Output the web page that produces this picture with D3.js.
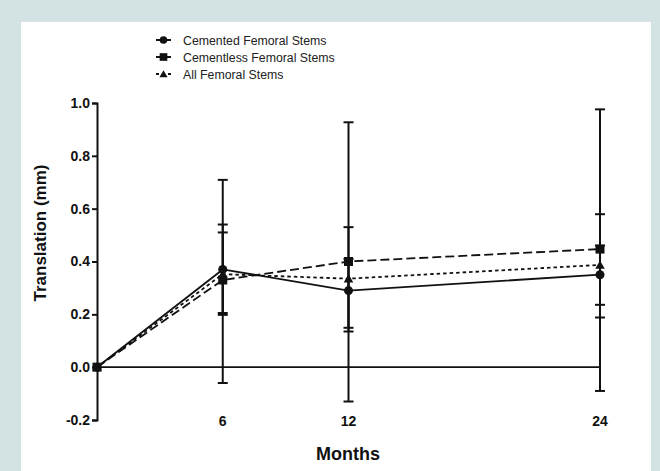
<!DOCTYPE html>
<html><head><meta charset="utf-8">
<script src="https://cdn.jsdelivr.net/npm/d3@7"></script>
<style>
html,body{margin:0;padding:0;background:#d3e3e3;}
svg{display:block;}
</style></head>
<body>
<svg id="chart" width="660" height="471"></svg>
<script>
const months = [0, 6, 12, 24];
const xTickLabels = [6, 12, 24];
const yTicks = [-0.2, 0.0, 0.2, 0.4, 0.6, 0.8, 1.0];
const seriesNames = ["Cemented Femoral Stems", "Cementless Femoral Stems", "All Femoral Stems"];
const cementedMean = [0, 0.37, 0.29, 0.35];
const cementedHigh = [0, 0.54, 0.41, 0.46];
const cementedLow  = [0, 0.205, 0.135, 0.236];
const cementlessMean = [0, 0.33, 0.40, 0.447];
const cementlessHigh = [0, 0.709, 0.927, 0.976];
const cementlessLow  = [0, -0.06, -0.13, -0.09];
const allMean = [0, 0.352, 0.335, 0.387];
const allHigh = [0, 0.51, 0.53, 0.579];
const allLow  = [0, 0.198, 0.149, 0.188];

const svg = d3.select("#chart");
svg.append("rect").attr("x",21).attr("y",22).attr("width",630).attr("height",449).attr("fill","#ffffff");

const x = d3.scaleLinear().domain([0,24]).range([97,600]);
const y = d3.scaleLinear().domain([-0.2,1.0]).range([420,103]);
const ink = "#111";
const font = "Liberation Sans, Arial, sans-serif";

const series = [
  {name: seriesNames[0], mean: cementedMean, hi: cementedHigh, lo: cementedLow, dash: null, marker: "circle"},
  {name: seriesNames[1], mean: cementlessMean, hi: cementlessHigh, lo: cementlessLow, dash: "9,4", marker: "square"},
  {name: seriesNames[2], mean: allMean, hi: allHigh, lo: allLow, dash: "3.5,3", marker: "triangle"}
];

// zero line
svg.append("line").attr("x1",x(0)).attr("x2",x(24)).attr("y1",y(0)).attr("y2",y(0))
  .attr("stroke",ink).attr("stroke-width",1.6);

// Y axis
const fmt = d3.format(".1f");
const yAxis = d3.axisLeft(y).tickValues(yTicks).tickFormat(d => fmt(d).replace("\u2212","-")).tickSize(5).tickSizeOuter(5).tickPadding(2);
const gy = svg.append("g").attr("transform",`translate(${x(0)},0)`).call(yAxis);
gy.select(".domain").attr("stroke",ink).attr("stroke-width",2);
gy.selectAll(".tick line").attr("stroke",ink).attr("stroke-width",2);
gy.selectAll(".tick text").attr("fill",ink).attr("font-family",font)
  .attr("font-size",14).attr("font-weight","bold");

// X tick labels
svg.append("g").selectAll("text").data(xTickLabels).join("text")
  .attr("x",d=>x(d)).attr("y",426).attr("text-anchor","middle")
  .attr("font-family",font).attr("font-size",14).attr("font-weight","bold")
  .attr("fill",ink).text(d=>d);

// axis titles
svg.append("text").attr("x",348).attr("y",460).attr("text-anchor","middle")
  .attr("font-family",font).attr("font-size",18).attr("font-weight","bold")
  .attr("fill",ink).text("Months");
svg.append("text").attr("transform","translate(46,233) rotate(-90)").attr("text-anchor","middle")
  .attr("font-family",font).attr("font-size",17).attr("font-weight","bold")
  .attr("fill",ink).text("Translation (mm)");

// error bars
const capW = 5;
series.forEach(s => {
  const g = svg.append("g");
  months.forEach((m,i) => {
    if (i === 0) return;
    g.append("line").attr("x1",x(m)).attr("x2",x(m)).attr("y1",y(s.hi[i])).attr("y2",y(s.lo[i]))
      .attr("stroke",ink).attr("stroke-width",2);
    [s.hi[i], s.lo[i]].forEach(v => {
      g.append("line").attr("x1",x(m)-capW).attr("x2",x(m)+capW).attr("y1",y(v)).attr("y2",y(v))
        .attr("stroke",ink).attr("stroke-width",2);
    });
  });
});

// lines
const line = d3.line().x((d,i)=>x(months[i])).y(d=>y(d));
series.forEach(s => {
  svg.append("path").datum(s.mean).attr("d",line).attr("fill","none").attr("stroke",ink)
    .attr("stroke-width",1.8).attr("stroke-dasharray",s.dash);
});

function drawMarker(g, type, cx, cy, scale) {
  scale = scale || 1;
  if (type === "circle") {
    g.append("circle").attr("cx",cx).attr("cy",cy).attr("r",4.5*scale).attr("fill",ink);
  } else if (type === "square") {
    const h = 4.5*scale;
    g.append("rect").attr("x",cx-h).attr("y",cy-h).attr("width",2*h).attr("height",2*h).attr("fill",ink);
  } else {
    g.append("path").attr("d",d3.symbol().type(d3.symbolTriangle).size(40*scale*scale)()).attr("transform",`translate(${cx},${cy+1})`).attr("fill",ink);
  }
}

// markers
series.forEach(s => {
  const g = svg.append("g");
  s.mean.forEach((v,i) => drawMarker(g, s.marker, x(months[i]), y(v)));
});

// legend
const legendY = [40, 57, 74];
series.forEach((s,i) => {
  const g = svg.append("g");
  const ly = legendY[i];
  g.append("line").attr("x1",156).attr("x2",171).attr("y1",ly).attr("y2",ly)
    .attr("stroke",ink).attr("stroke-width",2).attr("stroke-dasharray", i===2 ? "3,3" : null);
  drawMarker(g, s.marker, 163.5, ly, 0.85);
  g.append("text").attr("x",183).attr("y",ly+4.5).attr("font-family",font)
    .attr("font-size",12.3).attr("fill","#222").text(s.name);
});
</script>
</body></html>
